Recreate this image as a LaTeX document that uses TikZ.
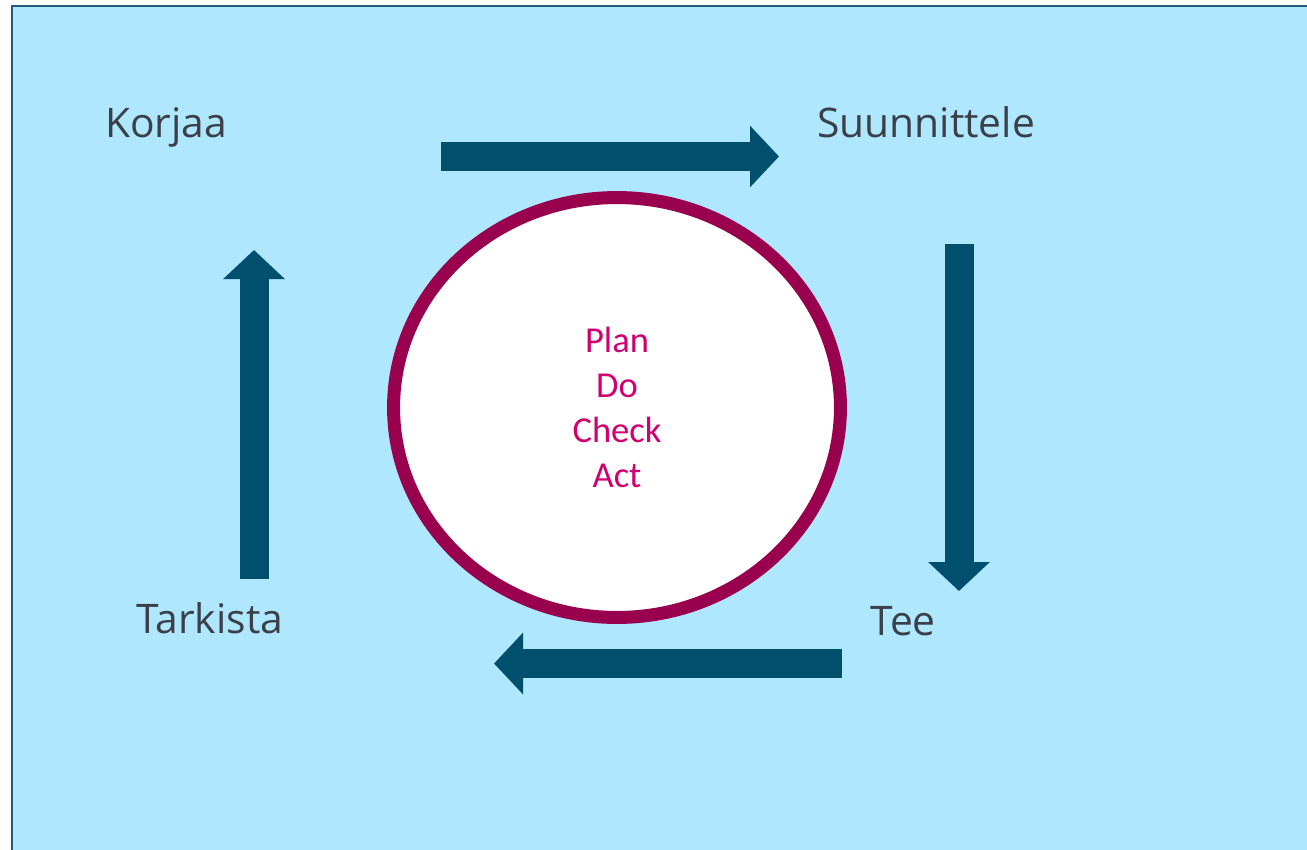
\documentclass[tikz,border=0pt]{standalone}
\usepackage{fontspec}
\setmainfont{Open Sans}
\newfontfamily\pdcafont{Carlito}
\usetikzlibrary{shapes.geometric,arrows.meta}
\definecolor{pdcasky}{RGB}{175,231,254}
\definecolor{pdcaframe}{RGB}{31,92,122}
\definecolor{pdcaarrow}{RGB}{0,79,108}
\definecolor{pdcaring}{RGB}{153,0,77}
\definecolor{pdcapink}{RGB}{208,0,111}
\definecolor{pdcagray}{RGB}{59,63,72}

\begin{document}
\begin{tikzpicture}[x=0.02cm,y=-0.02cm]
    % Define styles
    \tikzstyle{stage} = [anchor=base west, inner sep=0pt, text=pdcagray, font=\fontsize{23.2}{28}\selectfont]
    \tikzstyle{ring} = [ellipse, draw=pdcaring, fill=white, line width=0.26cm, minimum width=8.94cm, minimum height=8.4cm, text=pdcapink, align=center, font=\pdcafont\fontsize{20.8}{25.6}\selectfont]
    \tikzstyle{flow} = [line width=0.58cm, draw=pdcaarrow, -{Triangle[length=0.58cm, width=1.2cm]}]

    % Background
    \clip (0,0) rectangle (1307,849);
    \draw[pdcaframe, fill=pdcasky, line width=1.5pt] (12,6) rectangle (1340,880);

    % Cycle
    \node (pdca) [ring] at (617,407.5) {Plan\\Do\\Check\\Act};

    % Stages
    \node (korjaa) [stage] at (105,137) {Korjaa};
    \node (suunnittele) [stage] at (817,137) {Suunnittele};
    \node (tee) [stage] at (870,635) {Tee};
    \node (tarkista) [stage] at (136,633) {Tarkista};

    % Arrow ends
    \coordinate (topA) at (441,156.5);
    \coordinate (topB) at (779,156.5);
    \coordinate (rightA) at (959,244);
    \coordinate (rightB) at (959,591);
    \coordinate (bottomA) at (842,663.5);
    \coordinate (bottomB) at (494,663.5);
    \coordinate (leftA) at (254,579);
    \coordinate (leftB) at (254,250);

    % Arrows
    \draw [flow] (topA) -- (topB);
    \draw [flow] (rightA) -- (rightB);
    \draw [flow] (bottomA) -- (bottomB);
    \draw [flow] (leftA) -- (leftB);
\end{tikzpicture}
\end{document}
